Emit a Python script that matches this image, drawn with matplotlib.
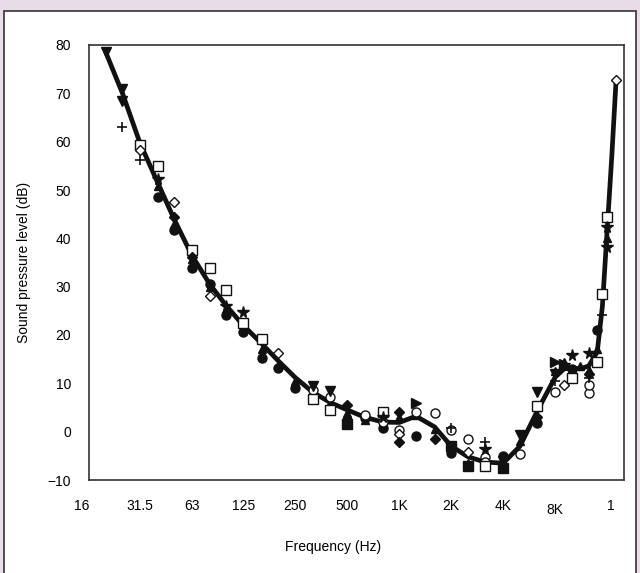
import numpy as np
import matplotlib
matplotlib.use("Agg")
import matplotlib.pyplot as plt
from matplotlib.patches import Rectangle

plt.rcParams['font.family'] = ['Liberation Sans', 'DejaVu Sans']

# --- mean hearing threshold curve ---
curve_freq = [20, 25, 31.5, 40, 50, 63, 80, 100, 125, 160, 200, 250, 315, 400,
              500, 630, 800, 1000, 1250, 1600, 2000, 2500, 3150, 4000, 5000,
              6300, 8000, 9000, 10000, 11200, 12500, 14000, 15000, 16000,
              17000, 18000]
curve_db = [78.5, 70.0, 59.8, 51.5, 43.8, 36.5, 30.5, 26.0, 22.0, 18.2, 14.6,
            11.2, 8.2, 6.0, 4.5, 3.0, 2.0, 1.9, 3.2, 1.0, -3.0, -5.2, -6.3,
            -6.5, -3.0, 4.3, 11.3, 13.0, 13.2, 13.0, 13.6, 16.5, 26.0, 42.0,
            57.0, 72.8]

# --- individual study results ---
filled_circle_f = [40, 50, 63, 80, 100, 125, 160, 200, 250, 500, 630, 800,
                   1250, 2000, 4000, 6300, 10000, 14000]
filled_circle_db = [48.6, 41.7, 33.8, 30.5, 24.1, 20.7, 15.2, 13.1, 9.0, 2.5,
                    2.8, 0.7, -0.9, -4.5, -5.0, 1.7, 13.0, 21.0]

open_circle_f = [31.5, 315, 400, 630, 800, 1000, 1250, 1600, 2000, 2500, 3150,
                 3150, 5000, 8000, 12500, 12500]
open_circle_db = [58.7, 8.6, 7.2, 3.4, 2.1, 0.3, 4.1, 3.8, 0.3, -1.6, -5.2,
                  -6.2, -4.6, 8.3, 8.1, 9.7]

open_square_f = [31.5, 40, 63, 80, 100, 125, 160, 315, 400, 800, 3150, 6300,
                 10000, 14000, 15000, 16000]
open_square_db = [59.3, 55.0, 37.6, 33.8, 29.3, 22.4, 19.1, 6.7, 4.5, 4.1,
                  -7.2, 5.3, 11.0, 14.5, 28.5, 44.5]

open_diamond_f = [31.5, 50, 80, 200, 1000, 2500, 9000, 18000]
open_diamond_db = [58.3, 47.6, 28.1, 16.2, -0.5, -4.2, 9.7, 72.8]

filled_diamond_f = [50, 63, 500, 1000, 1000, 1600, 6300, 12500]
filled_diamond_db = [44.5, 36.2, 5.5, 4.1, -2.1, -1.6, 3.0, 12.0]

filled_square_f = [500, 2000, 2500, 4000]
filled_square_db = [1.5, -3.0, -7.2, -7.6]

down_tri_f = [20, 25, 25, 315, 400, 4000, 5000, 6300, 8000]
down_tri_db = [78.5, 70.8, 68.5, 9.4, 8.5, -6.0, -0.7, 8.3, 12.0]

right_tri_f = [1250, 8000, 9000]
right_tri_db = [5.9, 14.5, 14.0]

up_tri_f = [31.5, 40, 50, 63, 80, 100, 125, 160, 200, 250, 315, 400, 500, 630,
            800, 1000, 1250, 1600, 2000, 2500, 3150, 4000, 5000, 6300, 8000,
            9000, 10000, 11200, 12500, 14000, 16000]
up_tri_db = [59.5, 50.8, 43.0, 35.8, 30.0, 25.3, 21.3, 17.0, 13.8, 10.5, 7.8,
             6.0, 3.8, 2.5, 2.0, 3.0, 3.5, 0.5, -3.5, -6.5, -6.0, -6.8, -2.0,
             5.0, 12.5, 14.5, 13.0, 13.5, 12.8, 17.0, 40.0]

plus_f = [25, 31.5, 2000, 3150, 8000, 12500, 15000]
plus_db = [63.1, 56.2, 0.8, -2.1, 10.5, 11.0, 24.1]

star_f = [40, 100, 125, 800, 3150, 9000, 10000, 12500, 16000, 16000]
star_db = [52.2, 26.0, 24.8, 3.0, -3.5, 13.8, 15.9, 16.3, 42.4, 38.3]

tick_freq = [16, 31.5, 63, 125, 250, 500, 1000, 2000, 4000, 8000, 16000]
tick_text = ['16', '31.5', '63', '125', '250', '500', '1K', '2K', '4K', '8K', '1']

fig = plt.figure(figsize=(6.4, 5.73), dpi=100)
fig.patch.set_facecolor('#e8dce8')
panel = Rectangle((4 / 640, -0.02), 632 / 640, (573 - 11) / 573 + 0.02,
                  transform=fig.transFigure, facecolor='white',
                  edgecolor='#333333', linewidth=1.2, zorder=-10)
fig.patches.append(panel)

ax = fig.add_axes([89 / 640, 1 - 480 / 573, 535 / 640, 435 / 573])
ax.set_zorder(1)
ax.set_facecolor('white')
ax.set_xscale('log')
ax.set_xlim(16, 20000)
ax.set_ylim(-10, 80)

ax.plot(curve_freq, curve_db, color='#111111', lw=3.4, zorder=2,
        solid_capstyle='round', solid_joinstyle='round')

k = dict(color='#111111', linestyle='none', zorder=3)
ax.plot(up_tri_f, up_tri_db, marker='^', ms=6, **k)
ax.plot(filled_circle_f, filled_circle_db, marker='o', ms=6.5, **k)
ax.plot(open_circle_f, open_circle_db, marker='o', ms=6.5, mfc='white', mew=1.0, **k)
ax.plot(open_square_f, open_square_db, marker='s', ms=7, mfc='white', mew=1.0, **k)
ax.plot(open_diamond_f, open_diamond_db, marker='D', ms=5, mfc='white', mew=1.0, **k)
ax.plot(filled_diamond_f, filled_diamond_db, marker='D', ms=5.5, **k)
ax.plot(filled_square_f, filled_square_db, marker='s', ms=6.5, **k)
ax.plot(down_tri_f, down_tri_db, marker='v', ms=7, **k)
ax.plot(right_tri_f, right_tri_db, marker='>', ms=7, **k)
ax.plot(plus_f, plus_db, marker='+', ms=7, mew=1.2, **k)
ax.plot(star_f, star_db, marker='*', ms=8.5, **k)

# labels at every octave, tick marks only between the ends
ax.set_xticks(tick_freq)
ax.set_xticklabels(tick_text)
ax.xaxis.set_minor_locator(matplotlib.ticker.FixedLocator(tick_freq[1:-1]))
ax.xaxis.set_minor_formatter(matplotlib.ticker.NullFormatter())
ax.tick_params(axis='x', which='major', length=0, pad=14, labelsize=10)
ax.tick_params(axis='x', which='minor', direction='in', length=6, width=1,
               top=True, bottom=True, color='#333333')
ax.set_yticks(np.arange(-10, 81, 10))
ax.tick_params(axis='y', length=0, pad=13, labelsize=10)
labels = ax.get_xticklabels()
labels[0].set_ha('right')
labels[-1].set_ha('left')
labels[9].set_y(-0.008)

for s in ax.spines.values():
    s.set_color('#333333')
    s.set_linewidth(1.2)

ax.set_xlabel('Frequency (Hz)', fontsize=10)
ax.xaxis.set_label_coords(0.456, -0.138)
ax.set_ylabel('Sound pressure level (dB)', fontsize=10)
ax.yaxis.set_label_coords(-0.108, 0.5)

fig.savefig('out.png', dpi=100, facecolor=fig.get_facecolor())
